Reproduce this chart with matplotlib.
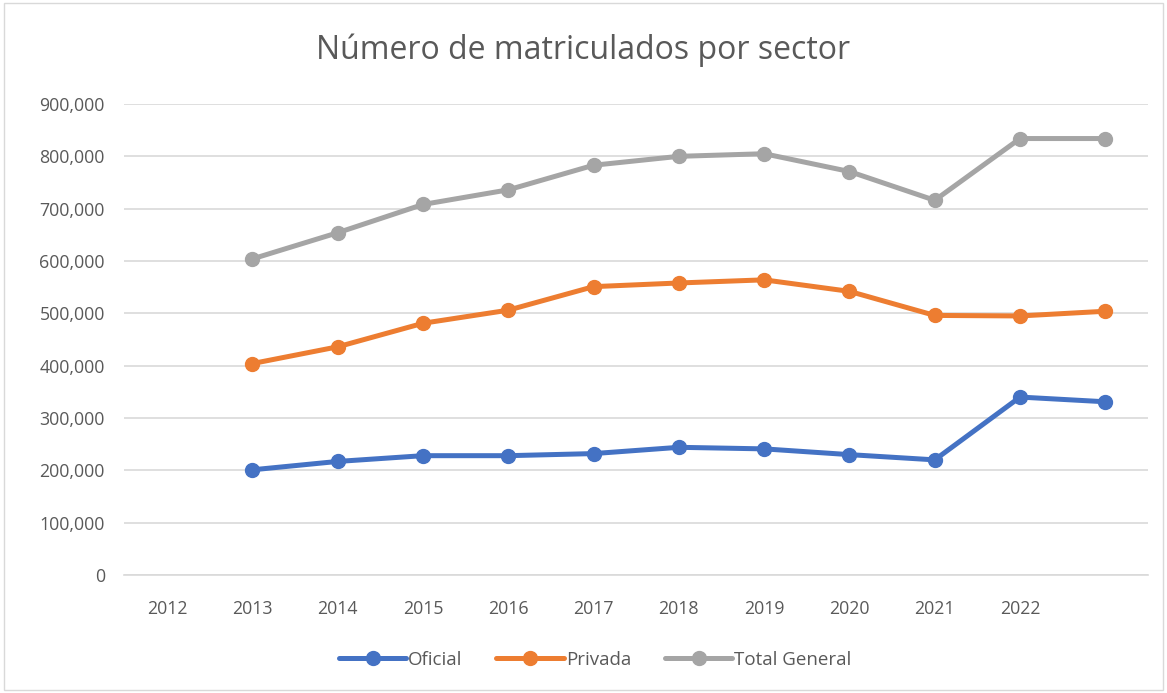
import matplotlib.pyplot as plt
from matplotlib.ticker import FuncFormatter
from matplotlib.patches import Rectangle

# Etiquetas del eje (Excel dejó la última categoría sin etiqueta)
etiquetas = ['2012', '2013', '2014', '2015', '2016', '2017', '2018',
             '2019', '2020', '2021', '2022', '']

# Valores (empiezan en la segunda categoría)
oficial = [201000, 217000, 228000, 228000, 232000, 244000, 241000,
           230000, 220000, 340000, 331000]
privada = [404000, 436000, 481000, 506000, 551000, 558000, 564000,
           542000, 496000, 495000, 504000]
total_general = [604000, 654000, 708000, 736000, 783000, 800000, 805000,
                 771000, 716000, 834000, 834000]

colores = {'Oficial': '#4472C4', 'Privada': '#ED7D31', 'Total General': '#A5A5A5'}

plt.rcParams['font.family'] = ['Open Sans', 'DejaVu Sans']

fig = plt.figure(figsize=(11.67, 6.93), dpi=100)
ax = fig.add_axes([124.4 / 1167, 1 - 575 / 693, 1023.6 / 1167, 471 / 693])

# borde del área del gráfico
fig.patches.append(Rectangle((0.003, 0.004), 0.994, 0.992, transform=fig.transFigure,
                             fill=False, edgecolor='#D9D9D9', linewidth=1))

x = list(range(1, len(etiquetas)))
for nombre, serie in [('Oficial', oficial), ('Privada', privada), ('Total General', total_general)]:
    ax.plot(x, serie, color=colores[nombre], linewidth=3.6, marker='o',
            markersize=10, label=nombre, solid_capstyle='round', zorder=3)

ax.set_xlim(-0.5, len(etiquetas) - 0.5)
ax.set_ylim(0, 900000)
ax.set_yticks(range(0, 900001, 100000))
ax.yaxis.set_major_formatter(FuncFormatter(lambda v, p: f'{int(v):,}'))
ax.set_xticks(range(len(etiquetas)))
ax.set_xticklabels(etiquetas)

ax.grid(axis='y', color='#D9D9D9', linewidth=1.2)
ax.set_axisbelow(True)
for lado in ['top', 'right', 'left']:
    ax.spines[lado].set_visible(False)
ax.spines['bottom'].set_color('#D9D9D9')
ax.spines['bottom'].set_linewidth(1.2)
ax.tick_params(axis='both', length=0, labelsize=12.8, labelcolor='#595959')
ax.tick_params(axis='x', pad=18)
ax.tick_params(axis='y', pad=14)

fig.text(0.5, 1 - 50 / 693, 'Número de matriculados por sector', ha='center', va='center',
         fontsize=23, color='#595959')

fig.legend(loc='center', bbox_to_anchor=(0.51, 1 - 660 / 693), ncol=3, frameon=False,
           fontsize=13.5, labelcolor='#595959', handlelength=3.6, handletextpad=0.1,
           columnspacing=1.8)

plt.savefig('out.png', dpi=100)
